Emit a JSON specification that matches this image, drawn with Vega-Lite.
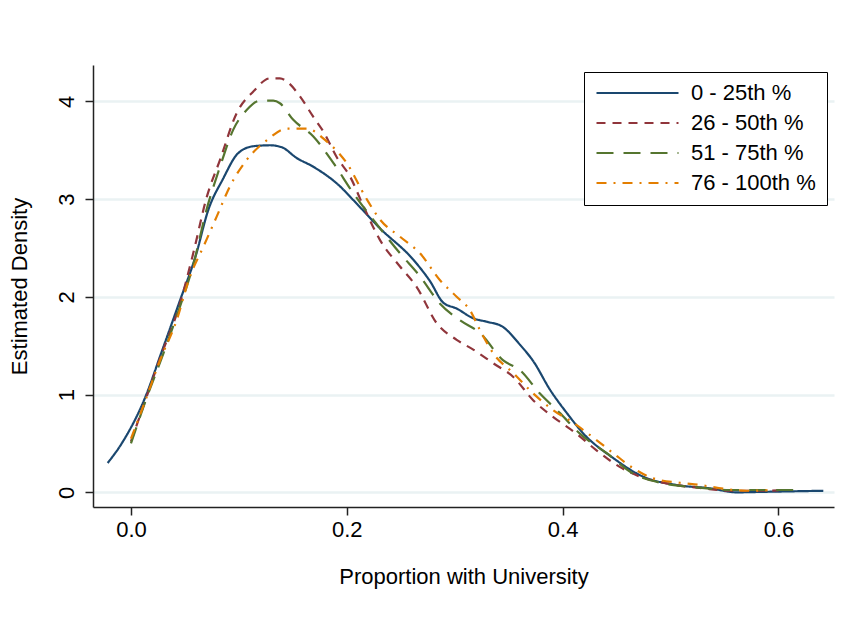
{
  "$schema": "https://vega.github.io/schema/vega-lite/v6.json",
  "width": 741,
  "height": 442,
  "autosize": {"type": "none"},
  "padding": {"left": 93, "top": 65, "right": 14, "bottom": 132},
  "background": "white",
  "config": {
    "view": {"stroke": null},
    "font": "Liberation Sans",
    "axis": {
      "domainColor": "#222222",
      "domainWidth": 1.5,
      "tickColor": "#222222",
      "tickWidth": 1.5,
      "tickSize": 8,
      "labelFont": "Liberation Sans",
      "labelFontSize": 22,
      "labelColor": "#000000",
      "titleFont": "Liberation Sans",
      "titleFontSize": 22,
      "titleFontWeight": "normal",
      "titleColor": "#000000"
    }
  },
  "data": {
    "values": [
      {"g": "0 - 25th %", "x": -0.0216, "y": 0.30},
      {"g": "0 - 25th %", "x": -0.0086, "y": 0.50},
      {"g": "0 - 25th %", "x": 0.0146, "y": 1.01},
      {"g": "0 - 25th %", "x": 0.0269, "y": 1.39},
      {"g": "0 - 25th %", "x": 0.045, "y": 1.95},
      {"g": "0 - 25th %", "x": 0.06, "y": 2.42},
      {"g": "0 - 25th %", "x": 0.0717, "y": 2.89},
      {"g": "0 - 25th %", "x": 0.085, "y": 3.20},
      {"g": "0 - 25th %", "x": 0.0994, "y": 3.47},
      {"g": "0 - 25th %", "x": 0.1134, "y": 3.54},
      {"g": "0 - 25th %", "x": 0.1288, "y": 3.55},
      {"g": "0 - 25th %", "x": 0.1397, "y": 3.53},
      {"g": "0 - 25th %", "x": 0.1535, "y": 3.42},
      {"g": "0 - 25th %", "x": 0.169, "y": 3.33},
      {"g": "0 - 25th %", "x": 0.1937, "y": 3.13},
      {"g": "0 - 25th %", "x": 0.206, "y": 2.99},
      {"g": "0 - 25th %", "x": 0.2308, "y": 2.70},
      {"g": "0 - 25th %", "x": 0.2616, "y": 2.38},
      {"g": "0 - 25th %", "x": 0.2771, "y": 2.16},
      {"g": "0 - 25th %", "x": 0.2894, "y": 1.94},
      {"g": "0 - 25th %", "x": 0.3018, "y": 1.88},
      {"g": "0 - 25th %", "x": 0.3172, "y": 1.78},
      {"g": "0 - 25th %", "x": 0.3296, "y": 1.745},
      {"g": "0 - 25th %", "x": 0.3435, "y": 1.70},
      {"g": "0 - 25th %", "x": 0.3605, "y": 1.51},
      {"g": "0 - 25th %", "x": 0.3729, "y": 1.34},
      {"g": "0 - 25th %", "x": 0.3883, "y": 1.05},
      {"g": "0 - 25th %", "x": 0.404, "y": 0.81},
      {"g": "0 - 25th %", "x": 0.4194, "y": 0.60},
      {"g": "0 - 25th %", "x": 0.447, "y": 0.35},
      {"g": "0 - 25th %", "x": 0.4747, "y": 0.16},
      {"g": "0 - 25th %", "x": 0.5056, "y": 0.075},
      {"g": "0 - 25th %", "x": 0.5366, "y": 0.041},
      {"g": "0 - 25th %", "x": 0.5613, "y": 0.0},
      {"g": "0 - 25th %", "x": 0.586, "y": 0.005},
      {"g": "0 - 25th %", "x": 0.6416, "y": 0.016},

      {"g": "26 - 50th %", "x": 0.0, "y": 0.52},
      {"g": "26 - 50th %", "x": 0.013, "y": 0.93},
      {"g": "26 - 50th %", "x": 0.0269, "y": 1.37},
      {"g": "26 - 50th %", "x": 0.0454, "y": 1.93},
      {"g": "26 - 50th %", "x": 0.0578, "y": 2.45},
      {"g": "26 - 50th %", "x": 0.0702, "y": 3.02},
      {"g": "26 - 50th %", "x": 0.0825, "y": 3.40},
      {"g": "26 - 50th %", "x": 0.098, "y": 3.88},
      {"g": "26 - 50th %", "x": 0.1134, "y": 4.10},
      {"g": "26 - 50th %", "x": 0.1288, "y": 4.235},
      {"g": "26 - 50th %", "x": 0.138, "y": 4.235},
      {"g": "26 - 50th %", "x": 0.1458, "y": 4.19},
      {"g": "26 - 50th %", "x": 0.1566, "y": 4.05},
      {"g": "26 - 50th %", "x": 0.169, "y": 3.84},
      {"g": "26 - 50th %", "x": 0.1783, "y": 3.69},
      {"g": "26 - 50th %", "x": 0.1906, "y": 3.43},
      {"g": "26 - 50th %", "x": 0.203, "y": 3.23},
      {"g": "26 - 50th %", "x": 0.2153, "y": 2.93},
      {"g": "26 - 50th %", "x": 0.2308, "y": 2.58},
      {"g": "26 - 50th %", "x": 0.2493, "y": 2.31},
      {"g": "26 - 50th %", "x": 0.2648, "y": 2.10},
      {"g": "26 - 50th %", "x": 0.2833, "y": 1.73},
      {"g": "26 - 50th %", "x": 0.3018, "y": 1.56},
      {"g": "26 - 50th %", "x": 0.3172, "y": 1.46},
      {"g": "26 - 50th %", "x": 0.3358, "y": 1.32},
      {"g": "26 - 50th %", "x": 0.3543, "y": 1.18},
      {"g": "26 - 50th %", "x": 0.3729, "y": 0.94},
      {"g": "26 - 50th %", "x": 0.3914, "y": 0.77},
      {"g": "26 - 50th %", "x": 0.4128, "y": 0.60},
      {"g": "26 - 50th %", "x": 0.4314, "y": 0.43},
      {"g": "26 - 50th %", "x": 0.4529, "y": 0.26},
      {"g": "26 - 50th %", "x": 0.4717, "y": 0.16},
      {"g": "26 - 50th %", "x": 0.4964, "y": 0.092},
      {"g": "26 - 50th %", "x": 0.530, "y": 0.041},
      {"g": "26 - 50th %", "x": 0.555, "y": 0.016},
      {"g": "26 - 50th %", "x": 0.586, "y": 0.016},
      {"g": "26 - 50th %", "x": 0.60, "y": 0.02},

      {"g": "51 - 75th %", "x": 0.0, "y": 0.50},
      {"g": "51 - 75th %", "x": 0.013, "y": 0.92},
      {"g": "51 - 75th %", "x": 0.030, "y": 1.42},
      {"g": "51 - 75th %", "x": 0.0454, "y": 1.90},
      {"g": "51 - 75th %", "x": 0.0578, "y": 2.33},
      {"g": "51 - 75th %", "x": 0.070, "y": 2.89},
      {"g": "51 - 75th %", "x": 0.0825, "y": 3.33},
      {"g": "51 - 75th %", "x": 0.0948, "y": 3.71},
      {"g": "51 - 75th %", "x": 0.1072, "y": 3.91},
      {"g": "51 - 75th %", "x": 0.1196, "y": 4.006},
      {"g": "51 - 75th %", "x": 0.1319, "y": 4.006},
      {"g": "51 - 75th %", "x": 0.138, "y": 3.98},
      {"g": "51 - 75th %", "x": 0.1504, "y": 3.81},
      {"g": "51 - 75th %", "x": 0.169, "y": 3.64},
      {"g": "51 - 75th %", "x": 0.1875, "y": 3.37},
      {"g": "51 - 75th %", "x": 0.206, "y": 3.06},
      {"g": "51 - 75th %", "x": 0.2308, "y": 2.70},
      {"g": "51 - 75th %", "x": 0.2493, "y": 2.445},
      {"g": "51 - 75th %", "x": 0.2678, "y": 2.21},
      {"g": "51 - 75th %", "x": 0.2864, "y": 1.93},
      {"g": "51 - 75th %", "x": 0.3049, "y": 1.76},
      {"g": "51 - 75th %", "x": 0.3234, "y": 1.63},
      {"g": "51 - 75th %", "x": 0.345, "y": 1.35},
      {"g": "51 - 75th %", "x": 0.3605, "y": 1.25},
      {"g": "51 - 75th %", "x": 0.379, "y": 1.01},
      {"g": "51 - 75th %", "x": 0.3976, "y": 0.81},
      {"g": "51 - 75th %", "x": 0.416, "y": 0.60},
      {"g": "51 - 75th %", "x": 0.4409, "y": 0.40},
      {"g": "51 - 75th %", "x": 0.4656, "y": 0.19},
      {"g": "51 - 75th %", "x": 0.4934, "y": 0.092},
      {"g": "51 - 75th %", "x": 0.5243, "y": 0.051},
      {"g": "51 - 75th %", "x": 0.555, "y": 0.024},
      {"g": "51 - 75th %", "x": 0.586, "y": 0.024},
      {"g": "51 - 75th %", "x": 0.617, "y": 0.024},

      {"g": "76 - 100th %", "x": 0.0, "y": 0.55},
      {"g": "76 - 100th %", "x": 0.013, "y": 0.93},
      {"g": "76 - 100th %", "x": 0.0269, "y": 1.35},
      {"g": "76 - 100th %", "x": 0.0423, "y": 1.76},
      {"g": "76 - 100th %", "x": 0.0547, "y": 2.21},
      {"g": "76 - 100th %", "x": 0.067, "y": 2.51},
      {"g": "76 - 100th %", "x": 0.0794, "y": 2.82},
      {"g": "76 - 100th %", "x": 0.0917, "y": 3.13},
      {"g": "76 - 100th %", "x": 0.1072, "y": 3.40},
      {"g": "76 - 100th %", "x": 0.1257, "y": 3.60},
      {"g": "76 - 100th %", "x": 0.1443, "y": 3.72},
      {"g": "76 - 100th %", "x": 0.1628, "y": 3.72},
      {"g": "76 - 100th %", "x": 0.1813, "y": 3.59},
      {"g": "76 - 100th %", "x": 0.1998, "y": 3.37},
      {"g": "76 - 100th %", "x": 0.2184, "y": 3.00},
      {"g": "76 - 100th %", "x": 0.2308, "y": 2.79},
      {"g": "76 - 100th %", "x": 0.2493, "y": 2.615},
      {"g": "76 - 100th %", "x": 0.2678, "y": 2.445},
      {"g": "76 - 100th %", "x": 0.2864, "y": 2.17},
      {"g": "76 - 100th %", "x": 0.3018, "y": 2.00},
      {"g": "76 - 100th %", "x": 0.314, "y": 1.865},
      {"g": "76 - 100th %", "x": 0.3234, "y": 1.66},
      {"g": "76 - 100th %", "x": 0.3358, "y": 1.42},
      {"g": "76 - 100th %", "x": 0.3543, "y": 1.22},
      {"g": "76 - 100th %", "x": 0.3729, "y": 1.01},
      {"g": "76 - 100th %", "x": 0.3914, "y": 0.84},
      {"g": "76 - 100th %", "x": 0.41, "y": 0.71},
      {"g": "76 - 100th %", "x": 0.4314, "y": 0.535},
      {"g": "76 - 100th %", "x": 0.447, "y": 0.40},
      {"g": "76 - 100th %", "x": 0.4656, "y": 0.245},
      {"g": "76 - 100th %", "x": 0.484, "y": 0.143},
      {"g": "76 - 100th %", "x": 0.5087, "y": 0.098},
      {"g": "76 - 100th %", "x": 0.5273, "y": 0.075},
      {"g": "76 - 100th %", "x": 0.549, "y": 0.037},
      {"g": "76 - 100th %", "x": 0.5705, "y": 0.016},
      {"g": "76 - 100th %", "x": 0.59, "y": 0.02}
    ]
  },
  "mark": {"type": "line", "strokeWidth": 2.2, "interpolate": "monotone"},
  "encoding": {
    "x": {
      "field": "x",
      "type": "quantitative",
      "scale": {"domain": [-0.0352, 0.6515], "nice": false, "zero": false},
      "axis": {
        "values": [0, 0.2, 0.4, 0.6],
        "format": ".1f",
        "grid": false,
        "labelPadding": 4,
        "title": "Proportion with University",
        "titlePadding": 26
      }
    },
    "y": {
      "field": "y",
      "type": "quantitative",
      "scale": {"domain": [-0.15, 4.371], "nice": false, "zero": false},
      "axis": {
        "values": [0, 1, 2, 3, 4],
        "format": "d",
        "grid": true,
        "gridColor": "#eaf2f3",
        "gridWidth": 2.5,
        "labelAngle": 270,
        "labelAlign": "center",
        "labelBaseline": "alphabetic",
        "labelPadding": 12,
        "title": "Estimated Density",
        "titlePadding": 24
      }
    },
    "color": {
      "field": "g",
      "type": "nominal",
      "scale": {
        "domain": ["0 - 25th %", "26 - 50th %", "51 - 75th %", "76 - 100th %"],
        "range": ["#1a476f", "#90353b", "#55752f", "#e37e00"]
      },
      "legend": {
        "orient": "none",
        "legendX": 491,
        "legendY": 7,
        "title": null,
        "symbolType": "stroke",
        "symbolSize": 6724,
        "symbolStrokeWidth": 2.2,
        "labelFontSize": 22,
        "labelFont": "Liberation Sans",
        "labelColor": "#000000",
        "labelOffset": 11,
        "labelLimit": 400,
        "padding": 11,
        "strokeColor": "#000000",
        "fillColor": "#ffffff",
        "cornerRadius": 0,
        "rowPadding": 8,
        "clipHeight": 20
      }
    },
    "strokeDash": {
      "field": "g",
      "type": "nominal",
      "scale": {
        "domain": ["0 - 25th %", "26 - 50th %", "51 - 75th %", "76 - 100th %"],
        "range": [[1, 0], [9, 7], [17, 10], [10, 7, 2, 7]]
      },
      "legend": {
        "orient": "none",
        "legendX": 491,
        "legendY": 7,
        "title": null,
        "symbolType": "stroke",
        "symbolSize": 6724,
        "symbolStrokeWidth": 2.2,
        "labelFontSize": 22,
        "labelFont": "Liberation Sans",
        "labelColor": "#000000",
        "labelOffset": 11,
        "labelLimit": 400,
        "padding": 11,
        "strokeColor": "#000000",
        "fillColor": "#ffffff",
        "cornerRadius": 0,
        "rowPadding": 8,
        "clipHeight": 20
      }
    }
  }
}
